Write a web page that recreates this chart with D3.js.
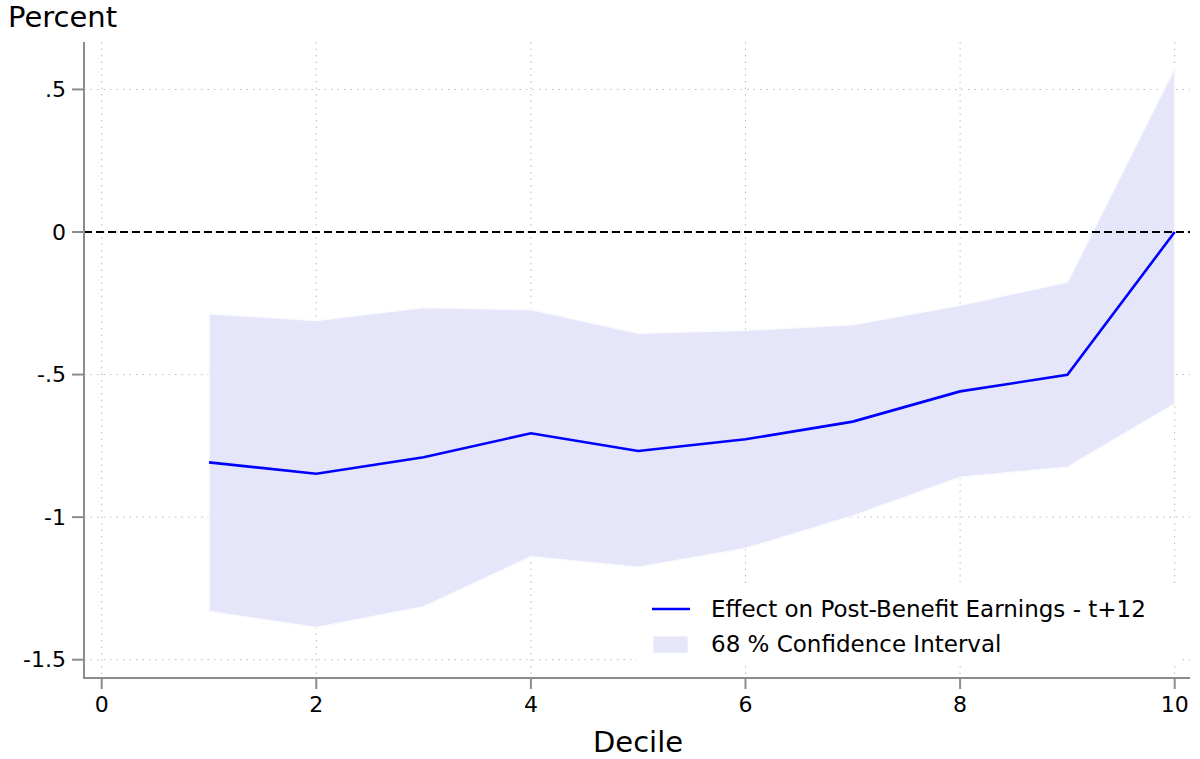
<!DOCTYPE html>
<html>
<head>
<meta charset="utf-8">
<script src="https://cdn.jsdelivr.net/npm/d3@7"></script>
<style>
  body { margin: 0; background: #fff; }
  text { font-family: "DejaVu Sans", sans-serif; fill: #000; }
</style>
</head>
<body>
<svg id="chart" width="1200" height="759"></svg>
<script>
// Data
const deciles = [1, 2, 3, 4, 5, 6, 7, 8, 9, 10];
const effect = [-0.808, -0.848, -0.790, -0.706, -0.768, -0.727, -0.665, -0.559, -0.501, 0.0];
const ciUpper = [-0.287, -0.310, -0.265, -0.272, -0.355, -0.345, -0.325, -0.257, -0.176, 0.575];
const ciLower = [-1.331, -1.387, -1.314, -1.139, -1.176, -1.110, -0.996, -0.860, -0.825, -0.603];

const xTicks = [0, 2, 4, 6, 8, 10];
const yTicks = [0.5, 0, -0.5, -1, -1.5];
const yTickLabels = [".5", "0", "-.5", "-1", "-1.5"];

const svg = d3.select("#chart");

// plot frame
const plotLeft = 84, plotRight = 1190, plotTop = 42, plotBottom = 678;

const x = d3.scaleLinear().domain([0, 10]).range([101.7, 1174.7]);
const y = d3.scaleLinear().domain([0, -1.5]).range([232, 659.7]);

// grid lines
const grid = svg.append("g").attr("class", "grid");
grid.selectAll("line.h")
    .data(yTicks)
    .join("line")
    .attr("class", "h")
    .attr("x1", plotLeft).attr("x2", plotRight)
    .attr("y1", d => y(d)).attr("y2", d => y(d))
    .attr("stroke", "#bbb")
    .attr("stroke-width", 1)
    .attr("stroke-dasharray", "1.5,5");

grid.selectAll("line.v")
    .data(xTicks)
    .join("line")
    .attr("class", "v")
    .attr("x1", d => x(d)).attr("x2", d => x(d))
    .attr("y1", plotTop).attr("y2", plotBottom)
    .attr("stroke", "#bbb")
    .attr("stroke-width", 1)
    .attr("stroke-dasharray", "1.5,5");

// confidence band
const rows = deciles.map((d, i) => ({d: d, lo: ciLower[i], hi: ciUpper[i], v: effect[i]}));

const area = d3.area()
    .x(r => x(r.d))
    .y0(r => y(r.lo))
    .y1(r => y(r.hi));

svg.append("path")
    .datum(rows)
    .attr("d", area)
    .attr("fill", "#e6e6fa")
    .attr("stroke", "#fbfbff")
    .attr("stroke-width", 1.5);

// zero reference
svg.append("line")
    .attr("x1", plotLeft).attr("x2", plotRight)
    .attr("y1", y(0)).attr("y2", y(0))
    .attr("stroke", "#000")
    .attr("stroke-width", 1.8)
    .attr("stroke-dasharray", "8,4");

// effect line
const line = d3.line()
    .x(r => x(r.d))
    .y(r => y(r.v));

svg.append("path")
    .datum(rows)
    .attr("d", line)
    .attr("fill", "none")
    .attr("stroke", "#0000ff")
    .attr("stroke-width", 2.6);

// legend (white box hides grid beneath)
const legend = svg.append("g").attr("transform", "translate(637,588)");
legend.append("rect")
    .attr("x", 0).attr("y", 0)
    .attr("width", 544).attr("height", 78)
    .attr("fill", "#fff");
legend.append("line")
    .attr("x1", 15).attr("x2", 53)
    .attr("y1", 21).attr("y2", 21)
    .attr("stroke", "#0000ff")
    .attr("stroke-width", 2.6);
legend.append("text")
    .attr("x", 74).attr("y", 29)
    .style("font-size", "23px")
    .text("Effect on Post-Benefit Earnings - t+12");
legend.append("rect")
    .attr("x", 16).attr("y", 48)
    .attr("width", 35).attr("height", 17)
    .attr("fill", "#e6e6fa")
    .attr("stroke", "#fbfbff");
legend.append("text")
    .attr("x", 74).attr("y", 64)
    .style("font-size", "23px")
    .text("68 % Confidence Interval");

// axes
const axisColor = "#8c8c8c";

svg.append("line")
    .attr("x1", plotLeft).attr("x2", plotLeft)
    .attr("y1", plotTop).attr("y2", plotBottom)
    .attr("stroke", axisColor).attr("stroke-width", 2);

svg.append("line")
    .attr("x1", plotLeft - 1).attr("x2", plotRight)
    .attr("y1", plotBottom).attr("y2", plotBottom)
    .attr("stroke", axisColor).attr("stroke-width", 2);

const yAxis = svg.append("g");
yAxis.selectAll("line")
    .data(yTicks)
    .join("line")
    .attr("x1", plotLeft - 12).attr("x2", plotLeft)
    .attr("y1", d => y(d)).attr("y2", d => y(d))
    .attr("stroke", axisColor).attr("stroke-width", 2);
yAxis.selectAll("text")
    .data(yTicks)
    .join("text")
    .attr("x", plotLeft - 18)
    .attr("y", d => y(d))
    .attr("dy", "0.35em")
    .attr("text-anchor", "end")
    .style("font-size", "22px")
    .text((d, i) => yTickLabels[i]);

const xAxis = svg.append("g");
xAxis.selectAll("line")
    .data(xTicks)
    .join("line")
    .attr("x1", d => x(d)).attr("x2", d => x(d))
    .attr("y1", plotBottom).attr("y2", plotBottom + 11)
    .attr("stroke", axisColor).attr("stroke-width", 2);
xAxis.selectAll("text")
    .data(xTicks)
    .join("text")
    .attr("x", d => x(d))
    .attr("y", plotBottom + 34)
    .attr("text-anchor", "middle")
    .style("font-size", "22px")
    .text(d => d);

// titles
svg.append("text")
    .attr("x", 8).attr("y", 27)
    .style("font-size", "29px")
    .text("Percent");

svg.append("text")
    .attr("x", (plotLeft + plotRight) / 2 + 1)
    .attr("y", 752)
    .attr("text-anchor", "middle")
    .style("font-size", "29px")
    .text("Decile");
</script>
</body>
</html>
